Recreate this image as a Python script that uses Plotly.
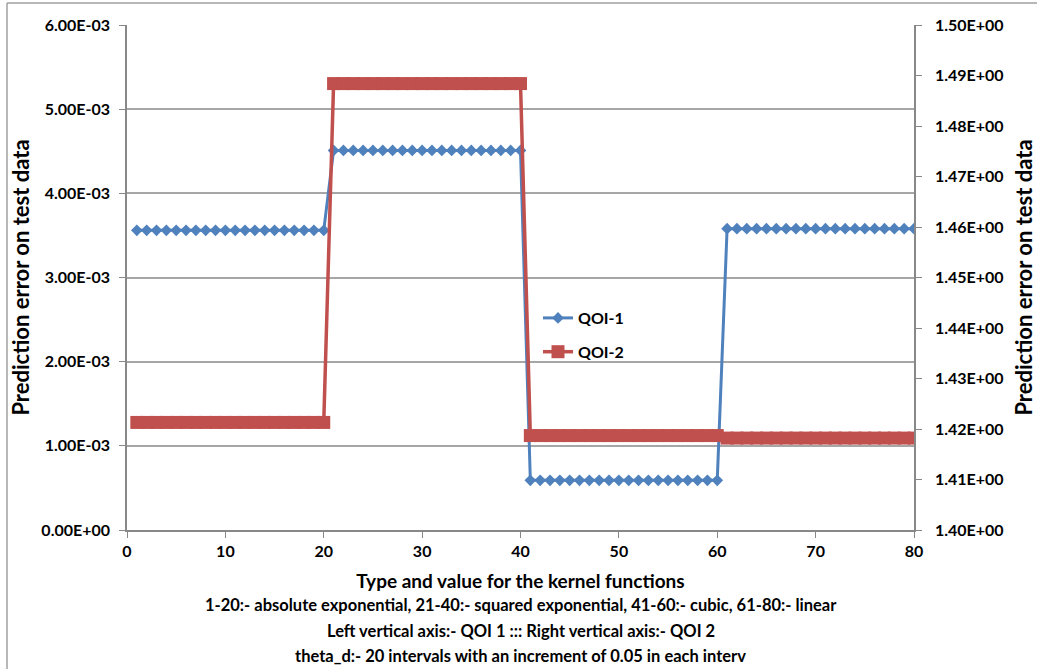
import plotly.graph_objects as go

# Kernel configuration index (1-20 abs. exp, 21-40 sq. exp, 41-60 cubic, 61-80 linear)
kernel_idx = list(range(1, 81))

# QOI 1 prediction error (left axis)
qoi1 = ([3.56e-3] * 20 + [4.51e-3] * 20 + [0.59e-3] * 20 + [3.58e-3] * 20)

# QOI 2 prediction error (right axis)
qoi2 = ([1.4213] * 20 + [1.4884] * 20 + [1.4187] * 20 + [1.4182] * 20)

left_ticks = [0.0, 1e-3, 2e-3, 3e-3, 4e-3, 5e-3, 6e-3]
right_ticks = [1.40, 1.41, 1.42, 1.43, 1.44, 1.45, 1.46, 1.47, 1.48, 1.49, 1.50]
x_ticks = [0, 10, 20, 30, 40, 50, 60, 70, 80]

x_title = "Type and value for the kernel functions"
x_notes = [
    "1-20:- absolute exponential, 21-40:- squared exponential, 41-60:- cubic, 61-80:- linear",
    "Left vertical axis:- QOI 1 ::: Right vertical axis:- QOI 2",
    "theta_d:- 20 intervals with an increment of 0.05 in each interv",
]

BLUE = "#4F81BD"
RED = "#C0504D"
AXIS = "#888888"
FONT = "Lato"

fig = go.Figure()
fig.add_trace(go.Scatter(
    x=kernel_idx, y=qoi1, name="<b>QOI-1</b>", mode="lines+markers",
    line=dict(color=BLUE, width=3),
    marker=dict(symbol="diamond", size=9, color=BLUE),
    legendgroup="a",
))
fig.add_trace(go.Scatter(
    x=kernel_idx, y=qoi2, name="<b>QOI-2</b>", mode="lines+markers", yaxis="y2",
    line=dict(color=RED, width=3.5),
    marker=dict(symbol="square", size=13, color=RED),
    legendgroup="b",
))

W, H = 1037, 669
L, R, T, B = 127, 123, 25, 139
pw, ph = W - L - R, H - T - B

def px_x(p):
    return (p - L) / pw

def px_y(p):
    return (H - B - p) / ph

tick_font = dict(family=FONT, size=16, color="#000000")
title_font = dict(family=FONT, size=22, color="#000000")

# Explanatory lines under the x-axis title
note_rows = [605, 631, 656]
annotations = [
    dict(text=f"<b>{txt}</b>", xref="paper", yref="paper",
         x=0.5, y=px_y(row), xanchor="center", yanchor="middle",
         showarrow=False, font=dict(family=FONT, size=16.5, color="#000000"))
    for txt, row in zip(x_notes, note_rows)
]

fig.update_layout(
    width=W, height=H,
    margin=dict(l=L, r=R, t=T, b=B, autoexpand=False),
    paper_bgcolor="white", plot_bgcolor="white",
    font=dict(family=FONT, color="#000000"),
    showlegend=True,
    legend=dict(
        x=px_x(538), y=px_y(301), xanchor="left", yanchor="top",
        bgcolor="rgba(0,0,0,0)", font=dict(family=FONT, size=16, color="#000000"),
        traceorder="grouped", tracegroupgap=10, itemwidth=30,
    ),
    annotations=annotations,
    xaxis=dict(
        range=[0, 80], tickvals=x_ticks, ticktext=[f"<b>{v}</b>" for v in x_ticks],
        showgrid=False, zeroline=False, showline=True, linecolor=AXIS, linewidth=1.5,
        ticks="outside", ticklen=6, tickcolor=AXIS, tickfont=tick_font,
        automargin=False,
        title=dict(text=f"<b>{x_title}</b>",
                   font=dict(family=FONT, size=19, color="#000000"), standoff=16),
    ),
    yaxis=dict(
        range=[0, 6e-3], tickvals=left_ticks,
        ticktext=[f"<b>{v:.2E}</b>" for v in left_ticks],
        showgrid=True, gridcolor="#A6A6A6", gridwidth=1.5, zeroline=False,
        showline=True, linecolor=AXIS, linewidth=1.5,
        ticks="outside", ticklen=6, tickcolor=AXIS, tickfont=tick_font,
        ticklabelstandoff=6, automargin=False,
        title=dict(text="<b>Prediction error on test data</b>", font=title_font, standoff=6),
    ),
    yaxis2=dict(
        range=[1.40, 1.50], tickvals=right_ticks,
        ticktext=[f"<b>{v:.2E}</b>" for v in right_ticks],
        overlaying="y", side="right", showgrid=False, zeroline=False,
        showline=True, linecolor=AXIS, linewidth=1.5,
        ticks="outside", ticklen=6, tickcolor=AXIS, tickfont=tick_font,
        ticklabelstandoff=10, automargin=False,
        title=dict(text="<b>Prediction error on test data</b>", font=title_font, standoff=14),
    ),
    shapes=[
        dict(type="line", xref="paper", yref="paper",
             x0=px_x(7), x1=px_x(W + 5), y0=px_y(3), y1=px_y(3),
             line=dict(color="#A0A0A0", width=1.5)),
        dict(type="line", xref="paper", yref="paper",
             x0=px_x(7), x1=px_x(7), y0=px_y(3), y1=px_y(H + 5),
             line=dict(color="#A0A0A0", width=1.5)),
    ],
)

fig.write_html("out.html")
